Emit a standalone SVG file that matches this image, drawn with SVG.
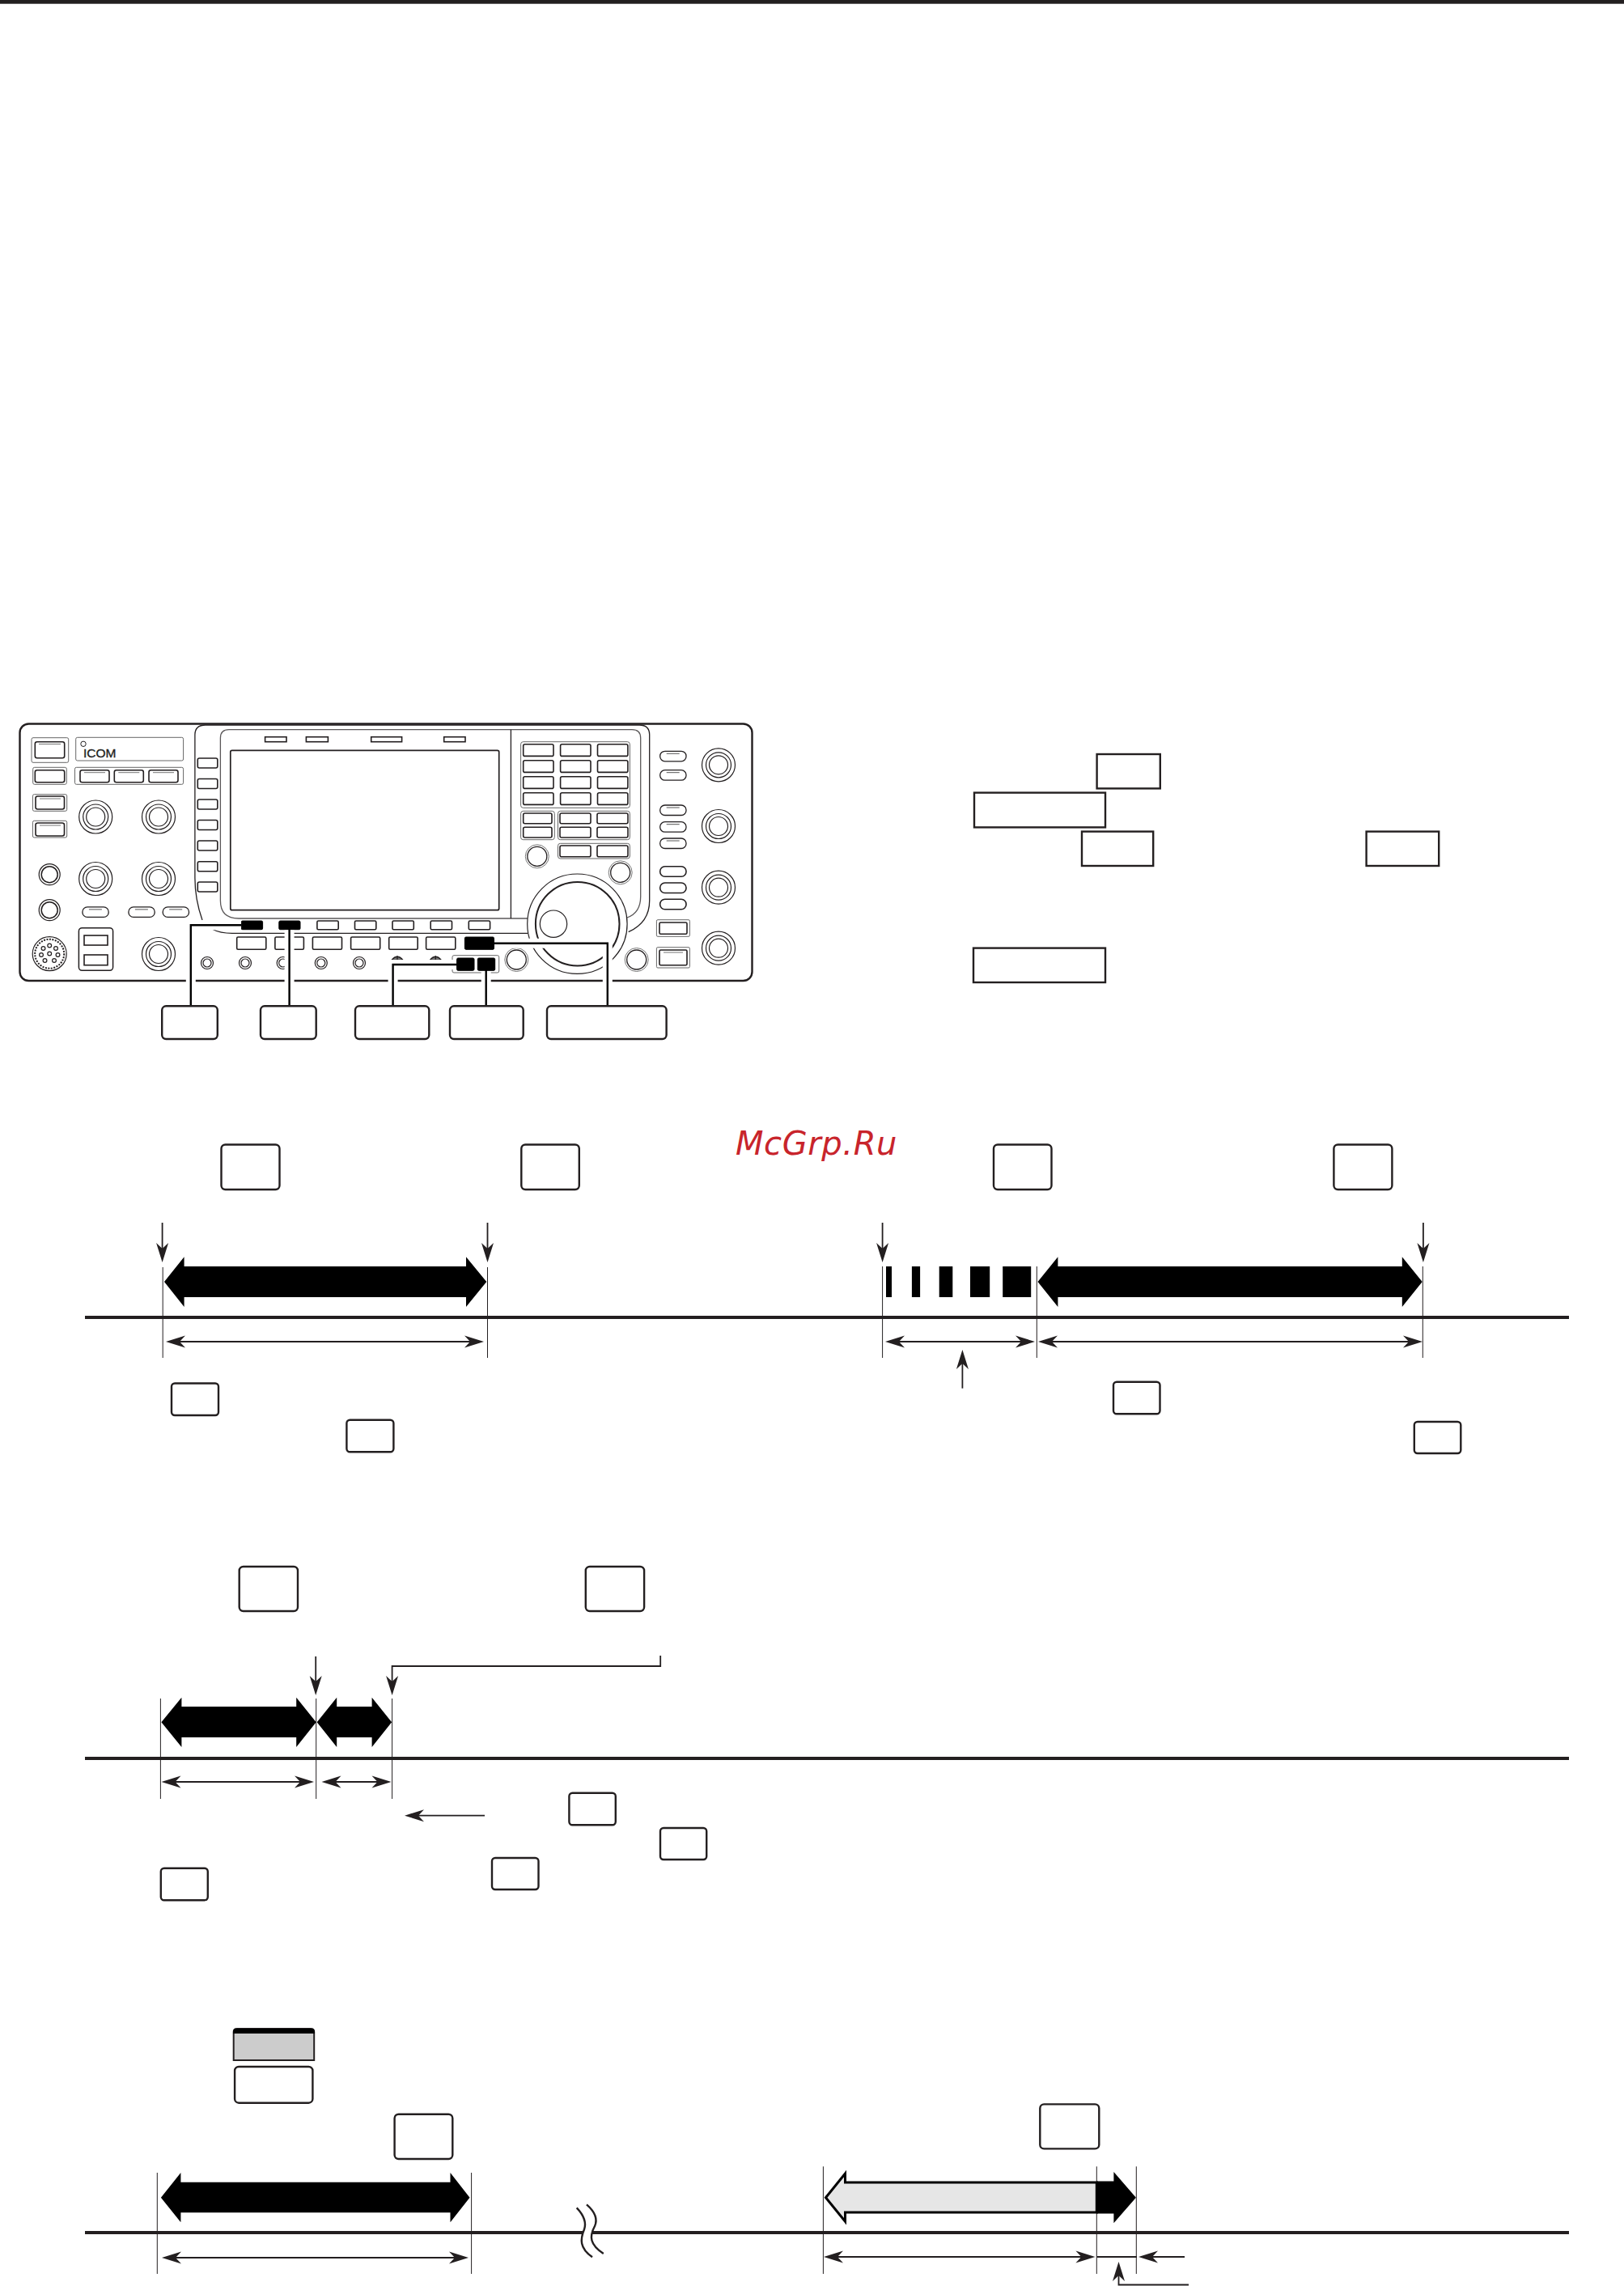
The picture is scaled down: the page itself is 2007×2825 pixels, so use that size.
<svg xmlns="http://www.w3.org/2000/svg" xmlns:xlink="http://www.w3.org/1999/xlink" width="2007" height="2825" viewBox="0 0 2007 2825">
<style>
.k{fill:#fff;stroke:#231f20;stroke-width:2.4}
.sq{fill:#fff;stroke:#231f20;stroke-width:2.4}
.th{stroke:#231f20;stroke-width:1;fill:none}
.base{stroke:#231f20;stroke-width:4;fill:none}
.bk{fill:#000;stroke:none}
.dim{stroke:#231f20;stroke-width:1.8;fill:none;marker-start:url(#h);marker-end:url(#h)}
.ar{stroke:#231f20;stroke-width:1.8;fill:none;marker-end:url(#h)}
.p{fill:#fff;stroke:#231f20;stroke-width:1.5}
.p1{fill:none;stroke:#666;stroke-width:1}
.btn{fill:#fff;stroke:#231f20;stroke-width:1.6}
.lead{fill:none;stroke:#000;stroke-width:2.4}
.halo{fill:none;stroke:#fff;stroke-width:12}
.fr{fill:none;stroke:#231f20;stroke-width:1.3}
.blk{fill:#000;stroke:#000;stroke-width:1}
</style>
<defs>
<marker id="h" markerUnits="userSpaceOnUse" markerWidth="34" markerHeight="20" viewBox="-26 -10 34 20" refX="0" refY="0" orient="auto-start-reverse" overflow="visible">
<polygon points="6,0 -18,-7.5 -11,0 -18,7.5" fill="#231f20"/>
</marker>
<g id="knob"><circle r="20.5" fill="#fff" stroke="#231f20" stroke-width="1.2"/><circle r="15.5" fill="none" stroke="#231f20" stroke-width="1.2"/><circle r="11.5" fill="none" stroke="#231f20" stroke-width="1.2"/></g>
<g id="sk"><circle r="13" fill="#fff" stroke="#231f20" stroke-width="1.2"/><circle r="10" fill="none" stroke="#231f20" stroke-width="1.5"/></g>
<g id="mk"><circle r="14.5" fill="#fff" stroke="#777" stroke-width="1"/><circle r="12" fill="none" stroke="#231f20" stroke-width="1.3"/></g>
<g id="jack"><circle r="7.5" fill="#fff" stroke="#231f20" stroke-width="1.2"/><circle r="5" fill="none" stroke="#231f20" stroke-width="1.2"/></g>
<g id="pill"><rect width="32.3" height="12.5" rx="6" fill="#fff" stroke="#231f20" stroke-width="1.3"/><line x1="8" y1="3" x2="24" y2="3" stroke="#555" stroke-width="1"/></g>
<g id="cap"><rect width="36" height="15" rx="2.5" class="btn"/><line x1="5" y1="3" x2="31" y2="3" stroke="#777" stroke-width="1"/></g>
</defs>
<rect width="2007" height="2825" fill="#fff"/>
<rect id="top-rule" x="0" y="0" width="2007" height="4.7" fill="#231f20"/>

<g id="radio">
<rect x="24.5" y="894.5" width="905" height="317.5" rx="11" fill="#fff" stroke="#231f20" stroke-width="2.4"/>
<!-- left block -->
<rect x="39" y="911.7" width="45.7" height="30.6" rx="2" class="p1"/>
<rect x="43.3" y="916.7" width="36.4" height="20" rx="2.5" class="btn"/><line x1="48" y1="919.5" x2="75" y2="919.5" stroke="#777"/>
<rect x="93.7" y="911.3" width="132.9" height="28.7" rx="2" class="p1"/>
<circle cx="103" cy="919.3" r="3.2" fill="none" stroke="#231f20" stroke-width="1"/>
<text x="103" y="936" font-family="Liberation Sans, sans-serif" font-size="15" textLength="40.5" lengthAdjust="spacingAndGlyphs" fill="#231f20" stroke="#231f20" stroke-width="0.35">ICOM</text>
<rect x="40.7" y="948.3" width="41.6" height="21" rx="2" class="p1"/>
<rect x="43.3" y="951.7" width="36.4" height="15" rx="2.5" class="btn"/>
<rect x="92.5" y="948.3" width="134.1" height="21" rx="2" class="p1"/>
<use href="#cap" x="99" y="951.7"/><use href="#cap" x="141.3" y="951.7"/><use href="#cap" x="184" y="951.7"/>
<rect x="40.4" y="981.7" width="42.3" height="20.6" rx="2" class="p1"/>
<rect x="44" y="984" width="35.5" height="16" rx="2.5" class="btn"/><line x1="49" y1="987" x2="75" y2="987" stroke="#777"/>
<rect x="40.4" y="1014.3" width="42.3" height="20.7" rx="2" class="p1"/>
<rect x="44" y="1017" width="35.5" height="16" rx="2.5" class="btn"/><line x1="49" y1="1020" x2="75" y2="1020" stroke="#777"/>
<use href="#knob" x="118.2" y="1009.5"/><use href="#knob" x="196" y="1009.5"/>
<use href="#knob" x="118.2" y="1086"/><use href="#knob" x="196" y="1086"/>
<use href="#sk" x="61.2" y="1080.7"/><use href="#sk" x="61.2" y="1124.7"/>
<use href="#pill" x="101.9" y="1120.9"/><use href="#pill" x="158.9" y="1120.9"/><use href="#pill" x="201.2" y="1120.9"/>
<g id="mic-socket" fill="none" stroke="#231f20" stroke-width="1.2">
<circle cx="61.2" cy="1178.7" r="21"/><circle cx="61.2" cy="1178.7" r="18" stroke-dasharray="2 1.5" stroke-width="2"/>
<circle cx="61.2" cy="1168.5" r="2.4"/><circle cx="53.5" cy="1172" r="2.4"/><circle cx="69" cy="1172" r="2.4"/><circle cx="51" cy="1180" r="2.4"/><circle cx="71.5" cy="1180" r="2.4"/><circle cx="55.5" cy="1187" r="2.4"/><circle cx="67" cy="1187" r="2.4"/><circle cx="61.2" cy="1178.5" r="2.4"/>
</g>
<rect x="97.4" y="1146.7" width="42.2" height="52.6" rx="4" class="p"/>
<rect x="104" y="1156" width="29" height="12" class="btn"/><rect x="104" y="1180" width="29" height="12.7" class="btn"/>
<use href="#knob" x="196" y="1179"/>
<!-- centre frame -->
<path class="fr" d="M250 1137 C244 1120 240.9 1105 240.9 1085 V908 Q240.9 896 254 896 H790 Q802.7 896 802.7 908 V1113 Q802.7 1140 776.7 1151.7"/>
<path class="fr" d="M652 1135 H295 Q272.4 1135 272.4 1113 V912 Q272.4 901.7 283 901.7 H781 Q791.7 901.7 791.7 912 V1108 Q791.7 1128 775 1134" stroke-opacity="0.75"/>
<line class="fr" x1="631.4" y1="901.7" x2="631.4" y2="1135"/>
<path class="fr" d="M263 1148.5 Q272 1153.3 287 1153.3 H652"/>
<rect x="327.6" y="910.7" width="26.4" height="6" class="btn"/>
<rect x="378.4" y="910.7" width="27" height="6" class="btn"/>
<rect x="458.7" y="910.7" width="37.9" height="6" class="btn"/>
<rect x="548.7" y="910.7" width="26.3" height="6" class="btn"/>
<rect x="284.8" y="927.3" width="331.9" height="197.4" rx="2" fill="#fff" stroke="#231f20" stroke-width="1.7"/>
<g id="side-keys">
<rect x="244.3" y="937" width="24.5" height="12" rx="2" class="btn"/><rect x="244.3" y="962.5" width="24.5" height="12" rx="2" class="btn"/><rect x="244.3" y="988" width="24.5" height="12" rx="2" class="btn"/><rect x="244.3" y="1013.5" width="24.5" height="12" rx="2" class="btn"/><rect x="244.3" y="1039" width="24.5" height="12" rx="2" class="btn"/><rect x="244.3" y="1064.7" width="24.5" height="12" rx="2" class="btn"/><rect x="244.3" y="1090" width="24.5" height="12" rx="2" class="btn"/>
</g>
<g id="keypad">
<rect x="643.6" y="916.7" width="134.8" height="81.6" rx="3" class="p1"/>
<rect x="646.7" y="919.7" width="37.3" height="14.7" rx="2" class="btn"/><rect x="692.6" y="919.7" width="37.4" height="14.7" rx="2" class="btn"/><rect x="738.5" y="919.7" width="37.4" height="14.7" rx="2" class="btn"/>
<rect x="646.7" y="939.7" width="37.3" height="14.7" rx="2" class="btn"/><rect x="692.6" y="939.7" width="37.4" height="14.7" rx="2" class="btn"/><rect x="738.5" y="939.7" width="37.4" height="14.7" rx="2" class="btn"/>
<rect x="646.7" y="959.7" width="37.3" height="14.7" rx="2" class="btn"/><rect x="692.6" y="959.7" width="37.4" height="14.7" rx="2" class="btn"/><rect x="738.5" y="959.7" width="37.4" height="14.7" rx="2" class="btn"/>
<rect x="646.7" y="979.7" width="37.3" height="14.7" rx="2" class="btn"/><rect x="692.6" y="979.7" width="37.4" height="14.7" rx="2" class="btn"/><rect x="738.5" y="979.7" width="37.4" height="14.7" rx="2" class="btn"/>
<rect x="643.6" y="1002.3" width="41.7" height="35.4" rx="3" class="p1"/>
<rect x="646.7" y="1005" width="35.3" height="12.7" rx="2" class="btn"/><rect x="646.7" y="1022.3" width="35.3" height="12.7" rx="2" class="btn"/>
<rect x="689.5" y="1002.3" width="88.9" height="35.4" rx="3" class="p1"/>
<rect x="692" y="1005" width="38" height="12.7" rx="2" class="btn"/><rect x="738" y="1005" width="38" height="12.7" rx="2" class="btn"/>
<rect x="692" y="1022.3" width="38" height="12.7" rx="2" class="btn"/><rect x="738" y="1022.3" width="38" height="12.7" rx="2" class="btn"/>
<rect x="689.5" y="1042.3" width="88.9" height="18.7" rx="3" class="p1"/>
<rect x="692" y="1045" width="38" height="13.7" rx="2" class="btn"/><rect x="738" y="1045" width="38" height="13.7" rx="2" class="btn"/>
</g>
<use href="#mk" x="663.8" y="1058.3"/><use href="#mk" x="766.7" y="1078.3"/>
<g id="dial" fill="#fff">
<circle cx="713.4" cy="1141.7" r="61.7" stroke="#231f20" stroke-width="1.2"/>
<circle cx="713.7" cy="1141.7" r="51.8" stroke="#231f20" stroke-width="2"/>
<circle cx="684" cy="1141.7" r="16.7" stroke="#231f20" stroke-width="1.2"/>
</g>
<g id="fn-row-1">
<rect x="298.2" y="1138" width="26.4" height="10.7" rx="1.5" class="blk"/><rect x="344.8" y="1138" width="26.2" height="10.7" rx="1.5" class="blk"/>
<rect x="391.9" y="1138" width="26.3" height="10.7" rx="1.5" class="btn"/><rect x="438.5" y="1138" width="26.3" height="10.7" rx="1.5" class="btn"/><rect x="485" y="1138" width="26.3" height="10.7" rx="1.5" class="btn"/><rect x="532.2" y="1138" width="26.3" height="10.7" rx="1.5" class="btn"/><rect x="579.3" y="1138" width="26.3" height="10.7" rx="1.5" class="btn"/>
</g>
<g id="fn-row-2">
<rect x="292.7" y="1158" width="36.1" height="15.3" rx="1.5" class="btn"/><rect x="339.9" y="1158" width="35.5" height="15.3" rx="1.5" class="btn"/><rect x="386.4" y="1158" width="36.1" height="15.3" rx="1.5" class="btn"/><rect x="433.6" y="1158" width="36.1" height="15.3" rx="1.5" class="btn"/><rect x="480.7" y="1158" width="35.5" height="15.3" rx="1.5" class="btn"/><rect x="526.6" y="1158" width="36.2" height="15.3" rx="1.5" class="btn"/>
<rect x="574.4" y="1158" width="36.1" height="15.3" rx="1.5" class="blk"/>
</g>
<use href="#jack" x="256" y="1190"/><use href="#jack" x="303" y="1190"/><use href="#jack" x="349.7" y="1190"/><use href="#jack" x="396.8" y="1190"/><use href="#jack" x="444" y="1190"/>
<path d="M484 1186.5 Q491 1178 498 1186.5 Z M491 1181 V1186.5" fill="#777" stroke="#231f20" stroke-width="1.3"/>
<path d="M531.3 1186.5 Q538.3 1178 545.3 1186.5 Z M538.3 1181 V1186.5" fill="#777" stroke="#231f20" stroke-width="1.3"/>
<rect x="559" y="1180.7" width="57.7" height="21.3" rx="2" class="p1"/>
<rect x="564.6" y="1184" width="21.4" height="15.3" rx="1.5" class="blk"/><rect x="590.3" y="1184" width="21.4" height="15.3" rx="1.5" class="blk"/>
<use href="#mk" x="638.3" y="1186"/><use href="#mk" x="786.7" y="1186"/>
<g id="right-col">
<use href="#pill" x="815.7" y="928.3"/><use href="#pill" x="815.7" y="951.7"/><use href="#pill" x="815.7" y="995"/><use href="#pill" x="815.7" y="1015.7"/><use href="#pill" x="815.7" y="1036"/>
<rect x="815.7" y="1070.7" width="32.3" height="12.5" rx="6" class="btn"/><rect x="815.7" y="1091" width="32.3" height="12.5" rx="6" class="btn"/><rect x="815.7" y="1111.3" width="32.3" height="12.5" rx="6" class="btn"/>
<use href="#knob" x="888" y="945.3"/><use href="#knob" x="888" y="1021"/><use href="#knob" x="888" y="1096.7"/><use href="#knob" x="888" y="1171.7"/>
<rect x="811.4" y="1136.7" width="41" height="20.6" rx="1.5" class="p1"/><rect x="815" y="1140" width="34" height="14.3" rx="1.5" class="btn"/>
<rect x="811.4" y="1170.7" width="41" height="25.3" rx="1.5" class="p1"/><rect x="815" y="1174" width="34" height="18.7" rx="1.5" class="btn"/><line x1="820" y1="1177" x2="844" y2="1177" stroke="#777"/>
</g>
</g>

<g id="connectors">
<g id="radio-leaders">
<path class="halo" d="M298 1143.3 H235.8 V1222"/>
<path class="halo" d="M357.6 1149.5 V1222"/>
<path class="halo" d="M564 1192 H485.6 V1222"/>
<path class="halo" d="M600.7 1200 V1222"/>
<path class="halo" d="M611 1165.7 H750.8 V1222"/>
<path class="lead" d="M298 1143.3 H235.8 V1243.3"/>
<path class="lead" d="M357.6 1148 V1243.3"/>
<path class="lead" d="M564.6 1192 H485.6 V1243.3"/>
<path class="lead" d="M600.7 1199 V1243.3"/>
<path class="lead" d="M610.5 1165.7 H750.8 V1243.3"/>
</g>
<g id="section-a">
<line class="base" x1="105" y1="1628" x2="1939" y2="1628"/>
<line class="ar" x1="200.6" y1="1511" x2="200.6" y2="1554"/><line class="ar" x1="602.5" y1="1511" x2="602.5" y2="1554"/>
<line class="th" x1="201.2" y1="1566" x2="201.2" y2="1678"/><line class="th" x1="602.5" y1="1566" x2="602.5" y2="1678"/>
<line class="dim" x1="211" y1="1658" x2="592" y2="1658"/>
<line class="ar" x1="1090.6" y1="1511" x2="1090.6" y2="1554"/><line class="ar" x1="1758.9" y1="1511" x2="1758.9" y2="1554"/>
<line class="th" x1="1090.6" y1="1565" x2="1090.6" y2="1678"/><line class="th" x1="1281.3" y1="1565" x2="1281.3" y2="1678"/><line class="th" x1="1758.3" y1="1565" x2="1758.3" y2="1678"/>
<line class="dim" x1="1100" y1="1658" x2="1273" y2="1658"/>
<line class="dim" x1="1289" y1="1658" x2="1752" y2="1658"/>
<line class="ar" x1="1189.4" y1="1715.7" x2="1189.4" y2="1674"/>
</g>
<g id="section-b">
<line class="base" x1="105" y1="2173" x2="1939" y2="2173"/>
<line class="ar" x1="390.2" y1="2047" x2="390.2" y2="2089"/>
<path class="ar" d="M816.2 2046 V2059 H484.6 V2089"/>
<line class="th" x1="198.4" y1="2099" x2="198.4" y2="2223"/><line class="th" x1="390.7" y1="2099" x2="390.7" y2="2223"/><line class="th" x1="484.6" y1="2099" x2="484.6" y2="2223"/>
<line class="dim" x1="205.5" y1="2202" x2="382" y2="2202"/>
<line class="dim" x1="403.5" y1="2202" x2="477.5" y2="2202"/>
<line class="ar" x1="599" y1="2243.7" x2="506" y2="2243.7"/>
</g>
<g id="section-c">
<line class="base" x1="105" y1="2759" x2="1939" y2="2759"/>
<line class="th" x1="194.3" y1="2685" x2="194.3" y2="2810"/><line class="th" x1="582.6" y1="2685" x2="582.6" y2="2810"/>
<line class="dim" x1="206" y1="2790" x2="573" y2="2790"/>
<rect x="720" y="2755" width="12" height="8" fill="#fff"/>
<path d="M712.7 2728.3 C722 2738 725 2746 722 2755 C717 2767 716 2778 732 2789.3" fill="none" stroke="#231f20" stroke-width="2.4"/>
<path d="M725 2724.3 C735 2733 739 2742 735 2751 C728 2764 729 2774 745.8 2785" fill="none" stroke="#231f20" stroke-width="2.4"/>
<line class="th" x1="1017.4" y1="2677.3" x2="1017.4" y2="2810" stroke-width="1.2"/><line class="th" x1="1355.3" y1="2677.3" x2="1355.3" y2="2810" stroke-width="1.2"/><line class="th" x1="1404.3" y1="2677.3" x2="1404.3" y2="2810" stroke-width="1.2"/>
<line class="dim" x1="1024" y1="2789" x2="1347.4" y2="2789"/>
<line x1="1355.7" y1="2789" x2="1405" y2="2789" stroke="#231f20" stroke-width="1.8"/>
<line class="ar" x1="1464" y1="2789" x2="1413" y2="2789"/>
<path class="ar" d="M1469 2823.5 H1382.5 V2801"/>
</g>
</g>

<g id="shafts-a">
<polygon class="bk" points="203,1584 227.6,1553.3 227.6,1565 576,1565 576,1553.3 601.3,1584 576,1615 576,1603 227.6,1603 227.6,1615"/>
<g id="bars"><rect class="bk" x="1095" y="1565" width="7" height="38"/><rect class="bk" x="1126.9" y="1565" width="10.2" height="38"/><rect class="bk" x="1160.7" y="1565" width="16.6" height="38"/><rect class="bk" x="1199" y="1565" width="24.2" height="38"/><rect class="bk" x="1239.2" y="1565" width="35" height="38"/></g>
<polygon class="bk" points="1282.5,1584 1307.4,1553.3 1307.4,1565 1732.8,1565 1732.8,1553.3 1757.7,1584 1732.8,1615 1732.8,1603 1307.4,1603 1307.4,1615"/>
<polygon class="bk" points="199.4,2128.3 224.4,2097.7 224.4,2109 366.2,2109 366.2,2097.7 390.7,2128.3 366.2,2159 366.2,2147 224.4,2147 224.4,2159"/>
<polygon class="bk" points="391.7,2128.3 416.2,2097.7 416.2,2109 459.6,2109 459.6,2097.7 484.1,2128.3 459.6,2159 459.6,2147 416.2,2147 416.2,2159"/>
<polygon class="bk" points="198.9,2715.7 223.4,2685 223.4,2696.7 556.5,2696.7 556.5,2685 580.5,2715.7 556.5,2746.3 556.5,2734.3 223.4,2734.3 223.4,2746.3"/>
<polygon points="1020.5,2715.7 1044.5,2686 1044.5,2697 1355.3,2697 1355.3,2734 1044.5,2734 1044.5,2745.3" fill="#e6e6e6" stroke="#000" stroke-width="3"/>
<polygon class="bk" points="1355.3,2695.5 1376.4,2695.5 1376.4,2684 1403.9,2715.7 1376.4,2747.3 1376.4,2735.5 1355.3,2735.5"/>
</g>

<g id="label-box-1"><rect class="k" x="200.2" y="1243.3" width="68.6" height="40.7" rx="5"/></g>
<g id="label-box-2"><rect class="k" x="322" y="1243.3" width="68.7" height="40.7" rx="5"/></g>
<g id="label-box-3"><rect class="k" x="439" y="1243.3" width="91.3" height="40.7" rx="5"/></g>
<g id="label-box-4"><rect class="k" x="556" y="1243.3" width="90.7" height="40.7" rx="5"/></g>
<g id="label-box-5"><rect class="k" x="676" y="1243.3" width="147.6" height="40.7" rx="5"/></g>

<g id="sq-1"><rect class="sq" x="1355.6" y="932" width="78.2" height="42.4"/></g>
<g id="sq-2"><rect class="sq" x="1204" y="979.6" width="162" height="42.8"/></g>
<g id="sq-3"><rect class="sq" x="1337" y="1027.6" width="88.2" height="42.4"/></g>
<g id="sq-4"><rect class="sq" x="1688.6" y="1027.6" width="89.6" height="42.4"/></g>
<g id="sq-5"><rect class="sq" x="1203" y="1171.6" width="163" height="42.4"/></g>

<g id="key-a1"><rect class="k" x="273.5" y="1414.5" width="72" height="55.5" rx="5"/></g>
<g id="key-a2"><rect class="k" x="644.3" y="1414.5" width="71.5" height="55.5" rx="5"/></g>
<g id="key-a3"><rect class="k" x="1228" y="1414.5" width="71.5" height="55.5" rx="5"/></g>
<g id="key-a4"><rect class="k" x="1648.4" y="1414.5" width="72" height="55.5" rx="5"/></g>
<g id="key-a5"><rect class="k" x="212" y="1709.5" width="58" height="39.5" rx="4"/></g>
<g id="key-a6"><rect class="k" x="428.4" y="1754.7" width="58" height="39.5" rx="4"/></g>
<g id="key-a7"><rect class="k" x="1376" y="1707.7" width="57.5" height="39.5" rx="4"/></g>
<g id="key-a8"><rect class="k" x="1747.8" y="1757" width="57.5" height="39" rx="4"/></g>

<g id="key-b1"><rect class="k" x="295.7" y="1936" width="72.3" height="55" rx="5"/></g>
<g id="key-b2"><rect class="k" x="723.8" y="1936" width="72.3" height="55" rx="5"/></g>
<g id="key-b3"><rect class="k" x="703.4" y="2215.7" width="57.4" height="39.5" rx="4"/></g>
<g id="key-b4"><rect class="k" x="816" y="2259" width="57.2" height="39" rx="4"/></g>
<g id="key-b5"><rect class="k" x="608" y="2296" width="57.5" height="39" rx="4"/></g>
<g id="key-b6"><rect class="k" x="198.8" y="2308.7" width="58" height="39.5" rx="4"/></g>

<g id="key-c-gray"><path d="M288.7 2546 V2511 Q288.7 2507 293 2507 H384 Q388.2 2507 388.2 2511 V2546 Z" fill="#ccc" stroke="#231f20" stroke-width="2"/><path d="M288 2513 V2511 Q288 2507 293 2507 H384 Q389 2507 389 2511 V2513 Z" fill="#000"/></g>
<g id="key-c1"><rect class="k" x="290.1" y="2554" width="96.3" height="44.7" rx="5"/></g>
<g id="key-c2"><rect class="k" x="487.6" y="2612.7" width="71.7" height="55.3" rx="5"/></g>
<g id="key-c3"><rect class="k" x="1285.3" y="2600.4" width="73" height="55" rx="5"/></g>

<text id="watermark" x="909" y="1426.7" font-family="DejaVu Sans, sans-serif" font-style="italic" font-size="40" fill="#c8242b" letter-spacing="0.6">McGrp.Ru</text>
</svg>
